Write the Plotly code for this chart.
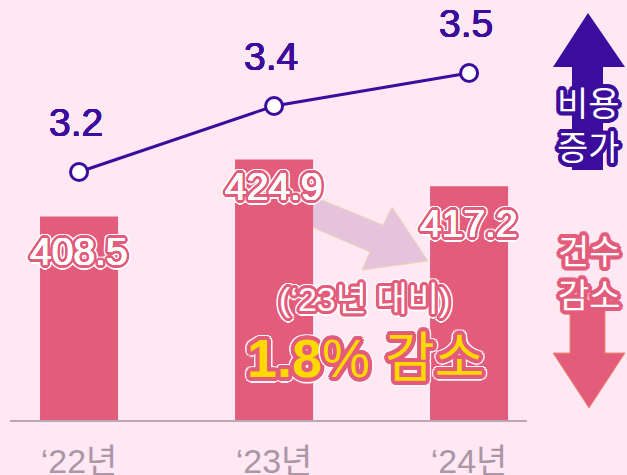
import math
import plotly.graph_objects as go

# ── data ──
years = ["‘22년", "‘23년", "‘24년"]
cases = [408.5, 424.9, 417.2]      # 건수 (bars)
cost = [3.2, 3.4, 3.5]             # 비용 (line)
change_note = "(‘23년 대비)"
change_text = "<b>1.8</b>% 감소"

# ── colours / fonts ──
BG = "#fde8f4"
PINK = "#e35c7c"
PURPLE = "#3c0c9c"
MAUVE = "#e6c3dc"
YELLOW = "#ffd800"
AXIS = "#bba6b5"
TICK = "#ac95a5"
FONT = "Liberation Sans, Arial, Noto Sans CJK KR, sans-serif"

W, H = 627, 475
L, R, T, B = 10, 100, 0, 55


def paper(px, py):
    """pixel position in the page -> paper coords"""
    return (px - L) / (W - L - R), (H - B - py) / (H - T - B)


def path(points):
    pts = [paper(x, y) for x, y in points]
    return "M " + " L ".join(f"{x:.4f},{y:.4f}" for x, y in pts) + " Z"


def ring(color, w, n=16):
    return [f"{w * math.cos(2 * math.pi * k / n):.1f}px "
            f"{w * math.sin(2 * math.pi * k / n):.1f}px 0 {color}"
            for k in range(n)]


def outline(color, width, halo=None, fill=None, grow=0.0):
    """text-shadow rings: optional extra weight, a stroke, an optional halo"""
    parts = ring(fill, grow, 8) if fill and grow else []
    parts += ring(color, width)
    if halo:
        parts += ring(halo, width + 1.5)
    return ", ".join(parts)


def free_text(px, py, text, size, color, shadow=None):
    x, y = paper(px, py)
    return dict(x=x, y=y, xref="paper", yref="paper", showarrow=False,
                xanchor="center", yanchor="middle", text=text,
                font=dict(family=FONT, size=size, color=color, shadow=shadow))


fig = go.Figure()

fig.add_trace(go.Bar(
    x=years, y=cases, width=0.4,
    marker=dict(color=PINK, line=dict(width=0)),
    hoverinfo="skip",
))

fig.add_trace(go.Scatter(
    x=years, y=cost, yaxis="y2", mode="lines+markers",
    line=dict(color=PURPLE, width=3),
    marker=dict(size=17, color="white", line=dict(color=PURPLE, width=3)),
    hoverinfo="skip",
))

annotations = []

# bar value labels
label_dy = [-35, -27, -37]
for yr, v, dy in zip(years, cases, label_dy):
    annotations.append(dict(
        x=yr, y=v, xref="x", yref="y", yshift=dy, showarrow=False,
        xanchor="center", yanchor="middle",
        text=f"{v:.1f}",
        font=dict(family=FONT, size=39, color="white",
                  shadow=outline(PINK, 3, "white", "white", 0.3)),
    ))

# line value labels
for yr, v in zip(years, cost):
    annotations.append(dict(
        x=yr, y=v, xref="x", yref="y2", yshift=50, xshift=-3, showarrow=False,
        xanchor="center", yanchor="middle",
        text=f"{v:.1f}",
        font=dict(family=FONT, size=39, color=PURPLE,
                  shadow=", ".join(ring(PURPLE, 0.3, 8))),
    ))

# change callout
annotations.append(free_text(364, 299, change_note, 34, "white",
                             outline(PINK, 3, "white")))
annotations.append(free_text(365, 358, change_text, 54, YELLOW,
                             outline(PINK, 4, "#fff4f8")))

# side legends
annotations.append(free_text(588, 126, "비용<br>증가", 34, "white",
                             outline(PURPLE, 4)))
annotations.append(free_text(589, 274, "건수<br>감소", 34, "white",
                             outline(PINK, 4)))

shapes = [
    # big translucent arrow between '23 and '24
    dict(type="path", xref="paper", yref="paper", layer="below",
         path=path([(305, 193), (383, 225), (392, 207), (428, 261),
                    (362, 270), (370, 252), (305, 224)]),
         fillcolor=MAUVE, line=dict(color="#efd6b0", width=1)),
    # purple up arrow
    dict(type="path", xref="paper", yref="paper",
         path=path([(588, 13), (625, 67), (603, 67), (603, 170),
                    (572, 170), (572, 67), (553, 67)]),
         fillcolor=PURPLE, line=dict(width=0)),
    # pink down arrow
    dict(type="path", xref="paper", yref="paper",
         path=path([(570, 300), (605, 300), (605, 353), (625, 353),
                    (589, 408), (553, 353), (570, 353)]),
         fillcolor=PINK, line=dict(color="#f08a6a", width=1)),
]

fig.update_layout(
    width=W, height=H,
    margin=dict(l=L, r=R, t=T, b=B),
    paper_bgcolor=BG, plot_bgcolor=BG,
    showlegend=False,
    font=dict(family=FONT),
    xaxis=dict(
        type="category", range=[-0.354, 2.297],
        showline=True, linecolor=AXIS, linewidth=2,
        ticks="", showgrid=False, zeroline=False, automargin=False,
        tickfont=dict(family=FONT, size=34, color=TICK),
        ticklabelstandoff=10,
    ),
    yaxis=dict(range=[350, 470.8], visible=False),
    yaxis2=dict(range=[2.4485, 3.7212], overlaying="y", visible=False),
    annotations=annotations,
    shapes=shapes,
)

fig.write_html(
    "out.html",
    config={"displayModeBar": False},
    post_script=f"document.body.style.margin='0';"
                f"document.body.style.background='{BG}';",
)
